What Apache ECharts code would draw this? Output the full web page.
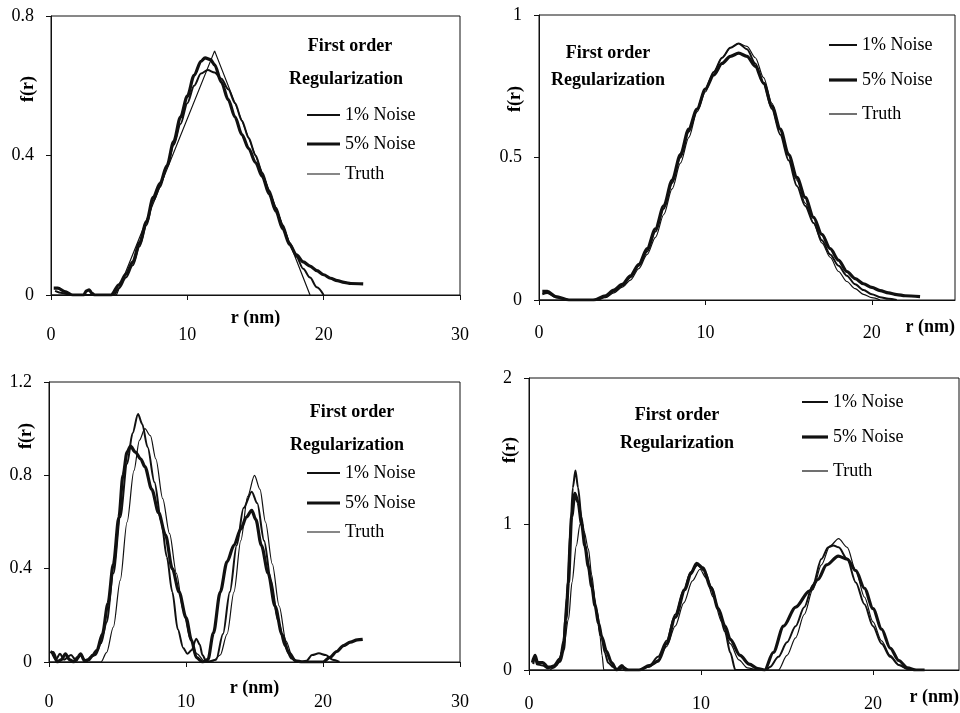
<!DOCTYPE html>
<html>
<head>
<meta charset="utf-8">
<script src="https://cdn.jsdelivr.net/npm/echarts@6/dist/echarts.min.js"></script>
<style>html,body{margin:0;padding:0;background:#fff}#c{width:960px;height:713px}</style>
</head>
<body>
<div id="c"></div>
<script>
// ---------- DATA ----------
const seriesNames = ['1% Noise', '5% Noise', 'Truth'];
const xTicks = [0, 10, 20, 30];
const xMaxes = [30, 25, 30, 25];
const yMaxes = [0.8, 1, 1.2, 2];
const yIntervals = [0.4, 0.5, 0.4, 1];

// Panel 1 (top-left)
const p1Noise1 = [[0.3,0.012],[0.8,0.006],[1.5,0],[4.6,0],[5,0.02],[5.5,0.05],[6,0.085],[6.5,0.14],[7,0.2],[7.5,0.27],[8,0.31],[8.5,0.37],[9,0.43],[9.5,0.49],[10,0.55],[10.5,0.6],[11,0.635],[11.5,0.645],[12,0.638],[12.5,0.62],[13,0.59],[13.5,0.55],[14,0.5],[14.5,0.45],[15,0.4],[15.5,0.35],[16,0.3],[16.5,0.25],[17,0.2],[17.5,0.15],[18,0.11],[18.5,0.075],[19,0.05],[19.5,0.022],[20,0]];
const p1Noise5 = [[0.2,0.02],[0.5,0.02],[1,0.01],[1.6,0],[2.4,0],[2.6,0.012],[2.8,0.015],[3,0.005],[3.2,0],[4.4,0],[5,0.03],[5.5,0.06],[6,0.095],[6.5,0.15],[7,0.21],[7.5,0.28],[8,0.32],[8.5,0.37],[9,0.44],[9.5,0.51],[10,0.57],[10.5,0.63],[11,0.67],[11.3,0.68],[11.7,0.675],[12,0.66],[12.5,0.61],[13,0.56],[13.5,0.51],[14,0.46],[14.5,0.42],[15,0.38],[15.5,0.34],[16,0.29],[16.5,0.24],[17,0.19],[17.5,0.145],[18,0.115],[18.5,0.095],[19,0.083],[19.5,0.07],[20,0.058],[20.5,0.048],[21,0.041],[21.5,0.036],[22,0.033],[22.9,0.032]];
const p1Truth = [[0,0],[4.8,0],[12,0.7],[19,0]];

// Panel 2 (top-right)
const p2Noise1 = [[0.2,0.02],[0.5,0.025],[1,0.01],[1.8,0],[3.5,0],[4,0.012],[4.5,0.03],[5,0.05],[5.5,0.08],[6,0.12],[6.5,0.17],[7,0.24],[7.5,0.32],[8,0.41],[8.5,0.5],[9,0.59],[9.5,0.67],[10,0.74],[10.5,0.8],[11,0.85],[11.5,0.885],[12,0.9],[12.5,0.88],[13,0.83],[13.5,0.76],[14,0.67],[14.5,0.58],[15,0.49],[15.5,0.4],[16,0.33],[16.5,0.27],[17,0.21],[17.5,0.16],[18,0.12],[18.5,0.085],[19,0.055],[19.5,0.035],[20,0.02],[20.5,0.01],[21,0.004],[21.5,0]];
const p2Noise5 = [[0.2,0.03],[0.5,0.03],[1,0.012],[1.8,0],[3.3,0],[4,0.015],[4.5,0.035],[5,0.055],[5.5,0.085],[6,0.125],[6.5,0.18],[7,0.25],[7.5,0.33],[8,0.42],[8.5,0.51],[9,0.6],[9.5,0.67],[10,0.74],[10.5,0.79],[11,0.83],[11.5,0.855],[12,0.866],[12.5,0.855],[13,0.82],[13.5,0.76],[14,0.68],[14.5,0.6],[15,0.51],[15.5,0.43],[16,0.36],[16.5,0.29],[17,0.23],[17.5,0.18],[18,0.14],[18.5,0.1],[19,0.075],[19.5,0.057],[20,0.044],[20.5,0.033],[21,0.025],[21.5,0.019],[22,0.015],[22.9,0.012]];
const p2Truth = [[0,0],[3,0],[4,0.008],[4.5,0.025],[5,0.045],[5.5,0.07],[6,0.11],[6.5,0.16],[7,0.22],[7.5,0.3],[8,0.39],[8.5,0.48],[9,0.57],[9.5,0.66],[10,0.73],[10.5,0.8],[11,0.85],[11.5,0.885],[12,0.9],[12.5,0.89],[13,0.85],[13.5,0.78],[14,0.69],[14.5,0.6],[15,0.51],[15.5,0.42],[16,0.34],[16.5,0.27],[17,0.2],[17.5,0.15],[18,0.1],[18.5,0.065],[19,0.04],[19.5,0.02],[20,0.008],[20.5,0]];

// Panel 3 (bottom-left)
const p3Noise1 = [[0.2,0.04],[0.5,0.01],[0.8,0.035],[1.1,0.01],[1.6,0.03],[2,0.005],[2.3,0.03],[2.7,0],[3,0.02],[3.4,0.03],[3.8,0.08],[4.2,0.17],[4.7,0.38],[5.2,0.62],[5.7,0.85],[6.1,0.98],[6.5,1.063],[6.8,1.02],[7.2,0.92],[7.7,0.77],[8.2,0.6],[8.6,0.45],[9,0.3],[9.4,0.14],[9.8,0.06],[10.1,0.035],[10.4,0.05],[10.75,0.1],[11,0.075],[11.2,0.03],[11.5,0],[12.2,0.01],[12.7,0.12],[13.2,0.3],[13.7,0.5],[14.2,0.66],[14.8,0.73],[15.2,0.68],[15.7,0.52],[16.2,0.35],[16.7,0.18],[17.2,0.07],[17.7,0.015],[18.2,0],[18.8,0.005],[19.2,0.03],[19.7,0.037],[20.2,0.03],[20.7,0.01],[21.2,0]];
const p3Noise5 = [[0.1,0.045],[0.3,0.04],[0.6,0],[0.9,0.01],[1.2,0.035],[1.5,0.01],[1.8,0],[2.1,0.02],[2.3,0.035],[2.6,0.005],[2.9,0.01],[3.2,0.03],[3.5,0.05],[3.9,0.12],[4.3,0.25],[4.7,0.42],[5.1,0.62],[5.4,0.8],[5.7,0.9],[5.95,0.925],[6.3,0.9],[6.7,0.87],[7,0.837],[7.5,0.74],[8,0.64],[8.5,0.545],[9,0.4],[9.5,0.3],[10,0.19],[10.4,0.094],[10.75,0.02],[11.2,0],[11.6,0.01],[12,0.124],[12.5,0.3],[13,0.43],[13.5,0.5],[14,0.57],[14.4,0.62],[14.8,0.65],[15.1,0.61],[15.5,0.5],[16,0.38],[16.5,0.24],[17,0.12],[17.5,0.04],[18,0.005],[18.5,0],[20,0],[20.5,0.02],[21,0.045],[21.5,0.07],[22,0.085],[22.5,0.095],[22.9,0.097]];
const p3Truth = [[0,0],[3.8,0],[4.2,0.04],[4.7,0.15],[5.2,0.35],[5.7,0.6],[6.2,0.82],[6.6,0.95],[7,1.0],[7.4,0.97],[7.8,0.87],[8.3,0.7],[8.8,0.55],[9.3,0.38],[9.8,0.22],[10.3,0.1],[10.8,0.035],[11.4,0],[12,0.005],[12.5,0.03],[13,0.12],[13.5,0.3],[14,0.52],[14.5,0.71],[15,0.8],[15.4,0.74],[15.8,0.6],[16.3,0.42],[16.8,0.24],[17.3,0.09],[17.8,0.015],[18.2,0],[21,0]];

// Panel 4 (bottom-right)
const p4Noise1 = [[0.25,0.04],[0.35,0.1],[0.45,0.04],[0.8,0.03],[1.1,0.01],[1.4,0.03],[1.8,0.08],[2,0.2],[2.2,0.5],[2.4,0.95],[2.55,1.25],[2.7,1.367],[2.85,1.25],[3.05,1.05],[3.3,0.82],[3.6,0.62],[3.9,0.42],[4.2,0.24],[4.4,0.12],[4.6,0.05],[4.9,0.02],[5.2,0],[5.5,0.02],[5.8,0],[6.5,0],[7,0.03],[7.5,0.09],[8,0.2],[8.5,0.38],[9,0.55],[9.4,0.67],[9.8,0.72],[10.2,0.68],[10.6,0.57],[11,0.42],[11.4,0.26],[11.7,0.12],[12,0],[13.8,0],[14,0.02],[14.5,0.09],[15,0.19],[15.5,0.3],[16,0.43],[16.5,0.58],[17,0.76],[17.4,0.84],[17.7,0.853],[18,0.84],[18.5,0.76],[19,0.6],[19.5,0.45],[20,0.3],[20.5,0.18],[21,0.09],[21.5,0.035],[22,0.008],[22.5,0]];
const p4Noise5 = [[0.2,0.05],[0.35,0.1],[0.5,0.05],[0.8,0.05],[1.1,0.02],[1.4,0.02],[1.8,0.06],[2,0.14],[2.15,0.35],[2.29,0.6],[2.48,1.05],[2.67,1.21],[2.85,1.15],[3.06,1.0],[3.25,0.85],[3.45,0.71],[3.65,0.57],[3.84,0.44],[4.05,0.32],[4.22,0.23],[4.5,0.13],[4.8,0.05],[5.1,0],[5.4,0.03],[5.6,0],[6.4,0],[7,0.03],[7.5,0.06],[8,0.18],[8.5,0.36],[9.07,0.55],[9.4,0.66],[9.75,0.73],[10.1,0.7],[10.6,0.56],[11,0.42],[11.4,0.3],[11.7,0.21],[12.27,0.1],[12.8,0.04],[13.3,0.01],[13.7,0],[14.2,0.12],[14.8,0.3],[15.5,0.43],[16.3,0.54],[16.8,0.62],[17.3,0.72],[17.98,0.78],[18.5,0.76],[19,0.68],[19.5,0.56],[20,0.42],[20.5,0.28],[21,0.15],[21.5,0.065],[22,0.015],[22.5,0],[23,0]];
const p4Truth = [[0,0],[1.2,0],[1.6,0.03],[2,0.15],[2.3,0.35],[2.5,0.6],[2.75,0.85],[2.97,1.0],[3.2,0.95],[3.45,0.83],[3.65,0.65],[3.84,0.48],[4,0.33],[4.13,0.23],[4.25,0.1],[4.35,0],[6.3,0],[7,0.02],[7.5,0.07],[8,0.16],[8.5,0.3],[9,0.46],[9.5,0.61],[9.94,0.69],[10.3,0.63],[10.7,0.5],[11.2,0.33],[11.7,0.18],[12.2,0.07],[12.7,0.015],[13.3,0],[14.5,0],[15,0.1],[15.5,0.22],[16,0.38],[16.5,0.55],[17,0.72],[17.5,0.85],[18,0.9],[18.5,0.84],[19,0.68],[19.5,0.5],[20,0.33],[20.5,0.2],[21,0.1],[21.5,0.035],[22,0.005],[22.5,0]];

const panelData = [
  [p1Noise1, p1Noise5, p1Truth],
  [p2Noise1, p2Noise5, p2Truth],
  [p3Noise1, p3Noise5, p3Truth],
  [p4Noise1, p4Noise5, p4Truth]
];

// ---------- LAYOUT ----------
const FONT = 'Liberation Serif';
const INK = '#111';
const grids = [
  {left: 51, top: 16, width: 409, height: 279},
  {left: 539, top: 15, width: 416, height: 285},
  {left: 49, top: 382, width: 411, height: 280},
  {left: 529, top: 378, width: 430, height: 293}
];
const xLabelMargins = [31, 24, 31, 25];
const xNameGaps = [14, 0, 17, 0];
const lineWidths = [2, 3.2, 1.2];
const smoothing = [0.3, 0.3, 0.3];

const chart = echarts.init(document.getElementById('c'), null, {renderer: 'canvas'});

const xAxes = grids.map((g, i) => {
  const ticks = xTicks.filter(t => t <= xMaxes[i]);
  const endName = (i === 1 || i === 3);
  return {
    type: 'value', gridIndex: i, min: 0, max: xMaxes[i], interval: 10,
    splitLine: {show: false},
    axisLine: {lineStyle: {color: INK, width: 1}},
    axisTick: {show: true, inside: false, length: 5, lineStyle: {color: INK}, customValues: ticks},
    axisLabel: {color: '#000', fontFamily: FONT, fontSize: 18, margin: xLabelMargins[i], customValues: ticks},
    name: 'r (nm)',
    nameLocation: endName ? 'end' : 'middle',
    nameGap: xNameGaps[i],
    nameMoveOverlap: false,
    nameTextStyle: endName
      ? {fontFamily: FONT, fontSize: 18, fontWeight: 'bold', color: '#000', align: 'right', verticalAlign: 'top', padding: [18, 0, 0, 0]}
      : {fontFamily: FONT, fontSize: 18, fontWeight: 'bold', color: '#000'}
  };
});
const yAxes = grids.map((g, i) => ({
  type: 'value', gridIndex: i, min: 0, max: yMaxes[i], interval: yIntervals[i],
  splitLine: {show: false},
  axisLine: {show: true, lineStyle: {color: INK, width: 1}},
  axisTick: {show: true, inside: false, length: 5, lineStyle: {color: INK}},
  axisLabel: {color: '#000', fontFamily: FONT, fontSize: 18, margin: 17}
}));

const series = [];
panelData.forEach((arr, p) => {
  arr.forEach((d, k) => {
    series.push({
      type: 'line', name: seriesNames[k], xAxisIndex: p, yAxisIndex: p,
      data: d, symbol: 'none', showSymbol: false,
      smooth: (p === 0 && k === 2) ? false : smoothing[k],
      smoothMonotone: 'x',
      lineStyle: {color: INK, width: lineWidths[k]},
      z: 3 - k
    });
  });
});

// annotation texts, f(r) labels and hand-drawn legends
const annot = [
  {fo: [350, 46], reg: [346, 79], leg: [307, 340, 345, [115, 144, 174]], fr: [28, 89]},
  {fo: [608, 53], reg: [608, 80], leg: [829, 857, 862, [45, 80, 114]], fr: [515, 99]},
  {fo: [352, 412], reg: [347, 445], leg: [307, 340, 345, [473, 503, 532]], fr: [26, 436]},
  {fo: [677, 415], reg: [677, 443], leg: [802, 828, 833, [402, 437, 471]], fr: [510, 450]}
];
const graphic = [];
annot.forEach(a => {
  graphic.push({type: 'text', style: {text: 'First order', x: a.fo[0], y: a.fo[1], font: 'bold 18px "Liberation Serif"', fill: '#000', textAlign: 'center', textVerticalAlign: 'middle'}});
  graphic.push({type: 'text', style: {text: 'Regularization', x: a.reg[0], y: a.reg[1], font: 'bold 18px "Liberation Serif"', fill: '#000', textAlign: 'center', textVerticalAlign: 'middle'}});
  graphic.push({type: 'text', x: a.fr[0], y: a.fr[1], rotation: Math.PI / 2, style: {text: 'f(r)', x: 0, y: 0, font: 'bold 18px "Liberation Serif"', fill: '#000', textAlign: 'center', textVerticalAlign: 'middle'}});
  a.leg[3].forEach((yy, k) => {
    graphic.push({type: 'line', shape: {x1: a.leg[0], y1: yy, x2: a.leg[1], y2: yy}, style: {stroke: INK, lineWidth: lineWidths[k]}});
    graphic.push({type: 'text', style: {text: seriesNames[k], x: a.leg[2], y: yy, font: '18px "Liberation Serif"', fill: '#000', textAlign: 'left', textVerticalAlign: 'middle'}});
  });
});

chart.setOption({
  animation: false,
  backgroundColor: '#fff',
  grid: grids.map(g => Object.assign({show: true, borderColor: INK, borderWidth: 1, backgroundColor: 'transparent'}, g)),
  xAxis: xAxes,
  yAxis: yAxes,
  series: series,
  graphic: graphic
});
</script>
</body>
</html>
